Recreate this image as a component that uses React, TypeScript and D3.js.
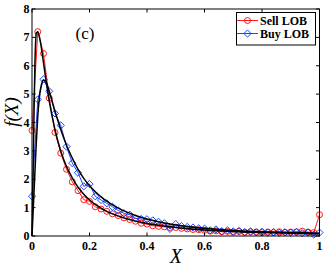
import React from "react";
import * as d3 from "d3";

const binX: number[] = d3.range(0, 51).map((i) => +(i * 0.02).toFixed(2));

const sellValues: number[] = [
  3.72, 7.2, 6.43, 4.86, 3.65, 2.92, 2.35, 1.91, 1.6, 1.28,
  1.22, 1.03, 0.95, 0.87, 0.78, 0.72, 0.64, 0.58, 0.52, 0.45,
  0.42, 0.36, 0.34, 0.32, 0.3, 0.3, 0.27, 0.25, 0.23, 0.22,
  0.2, 0.17, 0.18, 0.15, 0.16, 0.14, 0.16, 0.13, 0.15, 0.14,
  0.12, 0.14, 0.12, 0.15, 0.13, 0.14, 0.15, 0.17, 0.14, 0.12,
  0.75,
];

const buyValues: number[] = [
  1.4, 4.81, 5.52, 5.1, 4.32, 3.9, 3.15, 2.57, 2.23, 1.75,
  1.83, 1.4, 1.27, 1.15, 1.03, 0.9, 0.8, 0.75, 0.62, 0.6,
  0.59, 0.55, 0.5, 0.45, 0.25, 0.42, 0.35, 0.32, 0.3, 0.27,
  0.26, 0.2, 0.23, 0.17, 0.2, 0.16, 0.18, 0.14, 0.16, 0.13,
  0.15, 0.12, 0.14, 0.11, 0.13, 0.12, 0.13, 0.1, 0.12, 0.05,
  0.12,
];

const fitX: number[] = [0, 0.005, 0.01, 0.015, 0.02, 0.03, 0.04, 0.05, 0.06, 0.08, 0.1, 0.12, 0.14, 0.16, 0.18, 0.2, 0.25, 0.3, 0.35, 0.4, 0.5, 0.6, 0.7, 0.8, 0.9, 1.0];
const sellFit: number[] = [0, 3.0, 6.0, 7.15, 7.2, 6.8, 6.1, 5.4, 4.75, 3.75, 3.0, 2.45, 2.05, 1.72, 1.47, 1.27, 0.92, 0.7, 0.55, 0.44, 0.3, 0.21, 0.16, 0.12, 0.1, 0.08];
const buyFit: number[] = [0, 1.1, 2.2, 3.3, 4.2, 5.2, 5.5, 5.4, 5.1, 4.4, 3.75, 3.2, 2.75, 2.35, 2.03, 1.77, 1.3, 0.98, 0.76, 0.6, 0.39, 0.27, 0.19, 0.15, 0.12, 0.1];

const xTicks: number[] = [0, 0.2, 0.4, 0.6, 0.8, 1];
const yTicks: number[] = [0, 1, 2, 3, 4, 5, 6, 7, 8];
const seriesNames: string[] = ["Sell LOB", "Buy LOB"];
const seriesColors: string[] = ["#ff0000", "#0033ff"];

const W = 327;
const H = 267;
const M = { left: 32, right: 7.5, top: 9, bottom: 31 };

export default function App() {
  const x = d3.scaleLinear().domain([0, 1]).range([M.left, W - M.right]);
  const y = d3.scaleLinear().domain([0, 8]).range([H - M.bottom, M.top]);
  const line = d3
    .line<[number, number]>()
    .x((d) => x(d[0]))
    .y((d) => y(d[1]));
  const smooth = d3
    .line<[number, number]>()
    .x((d) => x(d[0]))
    .y((d) => y(d[1]))
    .curve(d3.curveMonotoneX);

  const sellPts: [number, number][] = binX.map((v, i) => [v, sellValues[i]]);
  const buyPts: [number, number][] = binX.map((v, i) => [v, buyValues[i]]);
  const sellFitPts: [number, number][] = fitX.map((v, i) => [v, sellFit[i]]);
  const buyFitPts: [number, number][] = fitX.map((v, i) => [v, buyFit[i]]);

  const x0 = x(0), x1 = x(1), y0 = y(0), y1 = y(8);
  const tl = 3.5;
  const font = "'Liberation Serif', 'Times New Roman', serif";

  const diamond = (cx: number, cy: number, r: number) =>
    `M${cx},${cy - r}L${cx + r},${cy}L${cx},${cy + r}L${cx - r},${cy}Z`;

  return (
    <svg
      width={W}
      height={H}
      style={{ position: "absolute", left: 0, top: 0, background: "#fff" }}
      fontFamily={font}
    >
      <rect x={0} y={0} width={W} height={H} fill="#fff" />
      <defs>
        <clipPath id="plotclip">
          <rect x={x0 - 5} y={y1} width={x1 - x0 + 10} height={y0 - y1 + 5} />
        </clipPath>
      </defs>

      {/* data */}
      <g clipPath="url(#plotclip)">
        <path d={line(sellPts) || ""} fill="none" stroke={seriesColors[0]} strokeWidth={0.9} />
        {sellPts.map((p, i) => (
          <circle key={"s" + i} cx={x(p[0])} cy={y(p[1])} r={3} fill="none" stroke={seriesColors[0]} strokeWidth={0.9} />
        ))}
        <path d={line(buyPts) || ""} fill="none" stroke={seriesColors[1]} strokeWidth={0.9} />
        {buyPts.map((p, i) => (
          <path key={"b" + i} d={diamond(x(p[0]), y(p[1]), 3.6)} fill="none" stroke={seriesColors[1]} strokeWidth={0.9} />
        ))}
        <path d={smooth(sellFitPts) || ""} fill="none" stroke="#000" strokeWidth={1.5} />
        <path d={smooth(buyFitPts) || ""} fill="none" stroke="#000" strokeWidth={1.5} />
      </g>

      {/* axes box */}
      <rect x={x0} y={y1} width={x1 - x0} height={y0 - y1} fill="none" stroke="#000" strokeWidth={1} />
      {xTicks.map((t) => (
        <g key={"xt" + t}>
          <line x1={x(t)} x2={x(t)} y1={y0} y2={y0 - tl} stroke="#000" strokeWidth={1} />
          <line x1={x(t)} x2={x(t)} y1={y1} y2={y1 + tl} stroke="#000" strokeWidth={1} />
          <text x={x(t)} y={y0 + 14} textAnchor="middle" fontSize={12} fontWeight="bold">
            {t === 0 || t === 1 ? String(t) : t.toFixed(1)}
          </text>
        </g>
      ))}
      {yTicks.map((t) => (
        <g key={"yt" + t}>
          <line x1={x0} x2={x0 + tl} y1={y(t)} y2={y(t)} stroke="#000" strokeWidth={1} />
          <line x1={x1} x2={x1 - tl} y1={y(t)} y2={y(t)} stroke="#000" strokeWidth={1} />
          <text x={x0 - 2.5} y={y(t) + 4} textAnchor="end" fontSize={12} fontWeight="bold">
            {t}
          </text>
        </g>
      ))}

      {/* axis labels */}
      <text x={(x0 + x1) / 2} y={263} textAnchor="middle" fontSize={20} fontStyle="italic">
        X
      </text>
      <text transform={`translate(18,${112}) rotate(-90)`} textAnchor="middle" fontSize={19} fontStyle="italic">
        f(X)
      </text>

      {/* panel label */}
      <text x={85} y={39} textAnchor="middle" fontSize={17}>
        (c)
      </text>

      {/* legend */}
      <g>
        <rect x={236.5} y={12.5} width={79} height={32.5} fill="#fff" stroke="#000" strokeWidth={1} />
        {seriesNames.map((name, i) => {
          const cy = 20.5 + i * 13;
          return (
            <g key={name}>
              <line x1={237} x2={258} y1={cy} y2={cy} stroke={seriesColors[i]} strokeWidth={0.9} />
              {i === 0 ? (
                <circle cx={247.5} cy={cy} r={3} fill="none" stroke={seriesColors[i]} strokeWidth={0.9} />
              ) : (
                <path d={diamond(247.5, cy, 3.6)} fill="none" stroke={seriesColors[i]} strokeWidth={0.9} />
              )}
              <text x={260} y={cy + 4} fontSize={12} fontWeight="bold">
                {name}
              </text>
            </g>
          );
        })}
      </g>
    </svg>
  );
}
